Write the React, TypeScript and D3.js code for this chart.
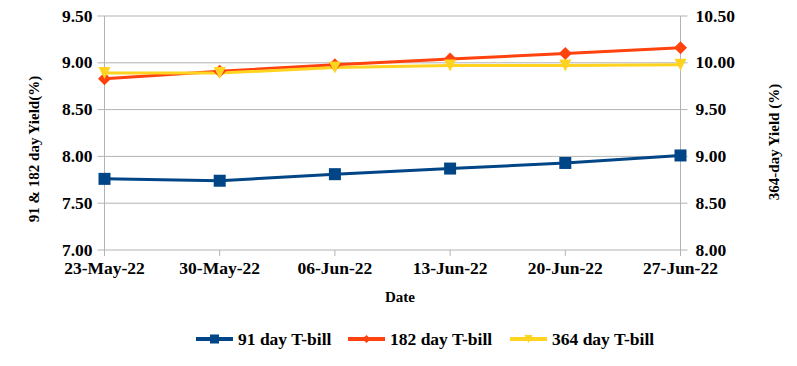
import React from 'react';
import * as d3 from 'd3';

// dates on the x axis
const dates = ['23-May-22', '30-May-22', '06-Jun-22', '13-Jun-22', '20-Jun-22', '27-Jun-22'];

// yields (%)
const tbill91 = [7.76, 7.74, 7.81, 7.87, 7.93, 8.01];
const tbill182 = [8.83, 8.91, 8.98, 9.04, 9.10, 9.16];
const tbill364 = [9.89, 9.89, 9.95, 9.97, 9.97, 9.98];

const leftTicks = [7.0, 7.5, 8.0, 8.5, 9.0, 9.5];
const rightTicks = [8.0, 8.5, 9.0, 9.5, 10.0, 10.5];

const width = 797;
const height = 366;
const margin = { top: 16, right: 116.5, bottom: 116, left: 104.5 };

const BLUE = '#004586';
const ORANGE = '#ff420e';
const YELLOW = '#ffd320';
const GRID = '#b3b3b3';
const FONT = '"Liberation Serif", "Times New Roman", serif';

const App = () => {
  const x = d3.scalePoint<string>()
    .domain(dates)
    .range([margin.left, width - margin.right]);

  const yLeft = d3.scaleLinear()
    .domain([7, 9.5])
    .range([height - margin.bottom, margin.top]);

  const yRight = d3.scaleLinear()
    .domain([8, 10.5])
    .range([height - margin.bottom, margin.top]);

  const lineLeft = d3.line<number>()
    .x((_, i) => x(dates[i]) as number)
    .y(d => yLeft(d));

  const lineRight = d3.line<number>()
    .x((_, i) => x(dates[i]) as number)
    .y(d => yRight(d));

  const x0 = margin.left;
  const x1 = width - margin.right;
  const yBottom = height - margin.bottom;

  // marker shapes
  const square = (cx: number, cy: number, s: number, color: string, key: string) => (
    <rect key={key} x={cx - s / 2} y={cy - s / 2} width={s} height={s} fill={color} />
  );
  const diamond = (cx: number, cy: number, s: number, color: string, key: string) => (
    <path key={key} d={`M${cx},${cy - s / 2}L${cx + s / 2},${cy}L${cx},${cy + s / 2}L${cx - s / 2},${cy}Z`} fill={color} />
  );
  const triangle = (cx: number, cy: number, s: number, color: string, key: string) => (
    <path key={key} d={`M${cx - s / 2},${cy - s / 2}L${cx + s / 2},${cy - s / 2}L${cx},${cy + s / 2}Z`} fill={color} />
  );

  const legend = [
    { label: '91 day T-bill', color: BLUE, marker: square, size: 9, x: 196 },
    { label: '182 day T-bill', color: ORANGE, marker: diamond, size: 8, x: 348 },
    { label: '364 day T-bill', color: YELLOW, marker: triangle, size: 8, x: 510 },
  ];
  const legendY = 339;

  return (
    <div style={{ position: 'fixed', left: 0, top: 0 }}>
      <svg width={width} height={height} style={{ display: 'block', background: '#fff' }}>
        {/* grid lines */}
        {leftTicks.map(t => (
          <line key={'g' + t} x1={x0 - 7} x2={x1 + 7} y1={yLeft(t)} y2={yLeft(t)} stroke={GRID} strokeWidth={1} />
        ))}
        {/* axis lines */}
        <line x1={x0} x2={x0} y1={margin.top} y2={yBottom + 6} stroke={GRID} strokeWidth={1} />
        <line x1={x1} x2={x1} y1={margin.top} y2={yBottom + 6} stroke={GRID} strokeWidth={1} />
        {dates.map(d => (
          <line key={'t' + d} x1={x(d)} x2={x(d)} y1={yBottom} y2={yBottom + 6} stroke={GRID} strokeWidth={1} />
        ))}

        {/* left tick labels */}
        {leftTicks.map(t => (
          <text key={'l' + t} x={x0 - 12} y={yLeft(t)} dy="0.32em" textAnchor="end"
            fontFamily={FONT} fontWeight="bold" fontSize={17.5} fill="#000">
            {t.toFixed(2)}
          </text>
        ))}
        {/* right tick labels */}
        {rightTicks.map(t => (
          <text key={'r' + t} x={x1 + 15} y={yRight(t)} dy="0.32em" textAnchor="start"
            fontFamily={FONT} fontWeight="bold" fontSize={17.5} fill="#000">
            {t.toFixed(2)}
          </text>
        ))}
        {/* x tick labels */}
        {dates.map(d => (
          <text key={'x' + d} x={x(d)} y={274} textAnchor="middle"
            fontFamily={FONT} fontWeight="bold" fontSize={17.5} fill="#000">
            {d}
          </text>
        ))}

        {/* axis titles */}
        <text x={400} y={302} textAnchor="middle" fontFamily={FONT} fontWeight="bold" fontSize={15} fill="#000">Date</text>
        <text transform="translate(39,149) rotate(-90)" textAnchor="middle" fontFamily={FONT} fontWeight="bold" fontSize={15} fill="#000">
          91 &amp; 182 day Yield(%)
        </text>
        <text transform="translate(779,142) rotate(-90)" textAnchor="middle" fontFamily={FONT} fontWeight="bold" fontSize={15} fill="#000">
          364-day Yield (%)
        </text>

        {/* series lines */}
        <path d={lineLeft(tbill91) || ''} fill="none" stroke={BLUE} strokeWidth={3} />
        <path d={lineLeft(tbill182) || ''} fill="none" stroke={ORANGE} strokeWidth={3} />
        <path d={lineRight(tbill364) || ''} fill="none" stroke={YELLOW} strokeWidth={3} />

        {/* markers */}
        {tbill91.map((v, i) => square(x(dates[i]) as number, yLeft(v), 12, BLUE, 'm91' + i))}
        {tbill182.map((v, i) => diamond(x(dates[i]) as number, yLeft(v), 13, ORANGE, 'm182' + i))}
        {tbill364.map((v, i) => triangle(x(dates[i]) as number, yRight(v), 12, YELLOW, 'm364' + i))}

        {/* legend */}
        {legend.map(l => (
          <g key={l.label}>
            <line x1={l.x} x2={l.x + 37} y1={legendY} y2={legendY} stroke={l.color} strokeWidth={4} />
            {l.marker(l.x + 18.5, legendY, l.size, l.color, 'lm' + l.label)}
            <text x={l.x + 42} y={legendY} dy="0.32em" fontFamily={FONT} fontWeight="bold" fontSize={17.5} fill="#000">
              {l.label}
            </text>
          </g>
        ))}
      </svg>
    </div>
  );
};

export default App;
